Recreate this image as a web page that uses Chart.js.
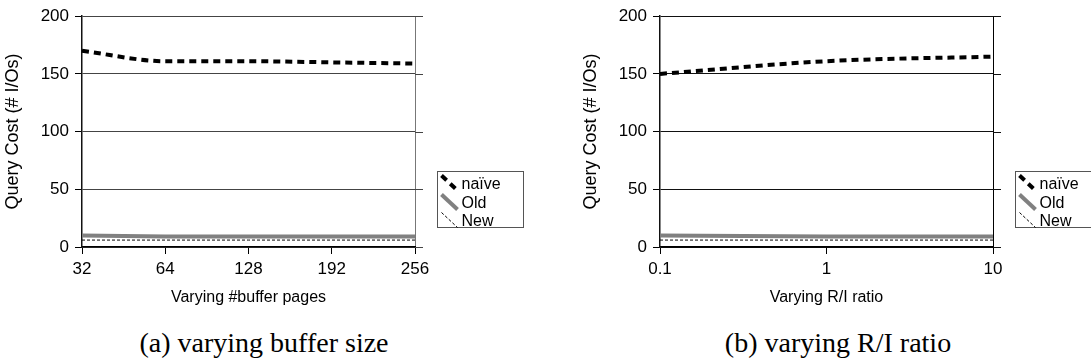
<!DOCTYPE html>
<html>
<head>
<meta charset="utf-8">
<script src="https://cdn.jsdelivr.net/npm/chart.js@4/dist/chart.umd.min.js"></script>
<style>
  body { margin: 0; background: #fff; width: 1091px; height: 364px; overflow: hidden; position: relative; }
  canvas { position: absolute; top: 0; }
  #c1 { left: 0; }
  #c2 { left: 578px; }
  .cap { position: absolute; top: 327px; font-family: "Liberation Serif", serif; font-size: 28px; color: #000; white-space: nowrap; transform: translateX(-50%); }
</style>
</head>
<body>
<canvas id="c1" width="540" height="312"></canvas>
<canvas id="c2" width="513" height="312"></canvas>
<div class="cap" style="left:264px">(a) varying buffer size</div>
<div class="cap" style="left:838px">(b) varying R/I ratio</div>
<script>
// данные (a)
var bufferPages = ['32', '64', '128', '192', '256'];
var naiveBuf = [170, 161, 161, 160, 159];
var oldBuf = [10, 9, 9, 9, 9];
var newBuf = [6, 6, 6, 6, 6];

// данные (b)
var riRatio = [0.1, 1, 10];
var naiveRi = [150, 161, 165];
var oldRi = [10, 9, 9];
var newRi = [6, 6, 6];

var seriesNames = ['naïve', 'Old', 'New'];
var yTicks = [0, 50, 100, 150, 200];

var FONT = 'Liberation Sans, Arial, sans-serif';

// линии сетки чуть выходят за правую рамку + легенда в рамке
var extrasPlugin = {
  id: 'extras',
  afterDraw: function(chart) {
    var ctx = chart.ctx;
    var area = chart.chartArea;
    var y = chart.scales.y;
    ctx.save();
    ctx.strokeStyle = chart.options.plugins.extras.gridColor;
    ctx.lineWidth = 1;
    yTicks.forEach(function(v) {
      var py = Math.round(y.getPixelForValue(v)) + 0.5;
      ctx.beginPath();
      ctx.moveTo(area.right, py);
      ctx.lineTo(area.right + 8, py);
      ctx.stroke();
    });

    // легенда
    var bx = Math.round(area.right) + 22.5, by = 171.5, bw = 86, bh = 56;
    ctx.fillStyle = '#fff';
    ctx.fillRect(bx, by, bw, bh);
    ctx.strokeStyle = '#555';
    ctx.strokeRect(bx, by, bw, bh);
    ctx.font = '16px ' + FONT;
    ctx.textBaseline = 'middle';
    ctx.textAlign = 'left';
    var rows = [12, 31, 49];
    chart.data.datasets.forEach(function(ds, i) {
      var cy = by + rows[i];
      ctx.strokeStyle = ds.borderColor;
      ctx.lineWidth = ds.borderWidth;
      ctx.setLineDash(ds.borderDash || []);
      ctx.beginPath();
      ctx.moveTo(bx + 4, cy - 8);
      ctx.lineTo(bx + 20, cy + 7);
      ctx.stroke();
      ctx.setLineDash([]);
      ctx.fillStyle = '#000';
      ctx.fillText(ds.label, bx + 24, cy + 1);
    });
    ctx.restore();
  }
};

function makeDatasets(naive, oldv, newv, xs) {
  function pts(arr) {
    return xs ? arr.map(function(v, i) { return { x: xs[i], y: v }; }) : arr;
  }
  return [
    { label: seriesNames[0], data: pts(naive), borderColor: '#000', borderWidth: 4, borderDash: [7, 5],
      pointRadius: 0, cubicInterpolationMode: 'monotone', borderCapStyle: 'butt' },
    { label: seriesNames[1], data: pts(oldv), borderColor: '#808080', borderWidth: 4,
      pointRadius: 0, borderCapStyle: 'butt' },
    { label: seriesNames[2], data: pts(newv), borderColor: '#000', borderWidth: 1, borderDash: [3, 2],
      pointRadius: 0 }
  ];
}

function yScale(gridColor) {
  return {
    min: 0, max: 200,
    afterFit: function(s) { s.width = 82; },
    afterBuildTicks: function(s) { s.ticks = yTicks.map(function(v) { return { value: v }; }); },
    grid: { color: gridColor, lineWidth: 1, tickLength: 7, tickColor: '#000' },
    border: { color: '#111', width: 1.5 },
    ticks: { color: '#000', font: { family: FONT, size: 17 }, padding: 6 },
    title: { display: true, text: 'Query Cost (# I/Os)', color: '#000', font: { family: FONT, size: 18 }, padding: { top: 2, bottom: 4 } }
  };
}

function xCommon(title, borderRight) {
  return {
    afterFit: function(s) { s.height = 60; },
    grid: {
      drawOnChartArea: true,
      tickLength: 7,
      tickColor: '#000',
      color: function(c) { return c.index === c.chart.scales.x.ticks.length - 1 ? borderRight : 'rgba(0,0,0,0)'; }
    },
    border: { color: '#000', width: 1.5 },
    ticks: { color: '#000', font: { family: FONT, size: 17 }, padding: 5, maxRotation: 0, autoSkip: false },
    title: { display: true, text: title, color: '#000', font: { family: FONT, size: 16 }, padding: { top: 6, bottom: 0 } }
  };
}

Chart.defaults.animation = false;

var xA = xCommon('Varying #buffer pages', '#777');
xA.type = 'category';
xA.offset = false;

new Chart(document.getElementById('c1'), {
  type: 'line',
  data: { labels: bufferPages, datasets: makeDatasets(naiveBuf, oldBuf, newBuf) },
  options: {
    responsive: false,
    devicePixelRatio: 1,
    layout: { padding: { top: 14, right: 125, bottom: 5, left: 0 } },
    plugins: { legend: { display: false }, tooltip: { enabled: false }, extras: { gridColor: '#444' } },
    scales: { x: xA, y: yScale('#444') }
  },
  plugins: [extrasPlugin]
});

var xB = xCommon('Varying R/I ratio', '#000');
xB.type = 'logarithmic';
xB.min = 0.1;
xB.max = 10;
xB.afterBuildTicks = function(s) { s.ticks = riRatio.map(function(v) { return { value: v }; }); };
xB.ticks.callback = function(v) { return String(v); };

new Chart(document.getElementById('c2'), {
  type: 'line',
  data: { datasets: makeDatasets(naiveRi, oldRi, newRi, riRatio) },
  options: {
    responsive: false,
    devicePixelRatio: 1,
    layout: { padding: { top: 13, right: 98, bottom: 5, left: 0 } },
    plugins: { legend: { display: false }, tooltip: { enabled: false }, extras: { gridColor: '#111' } },
    scales: { x: xB, y: yScale('#111') }
  },
  plugins: [extrasPlugin]
});
</script>
</body>
</html>
